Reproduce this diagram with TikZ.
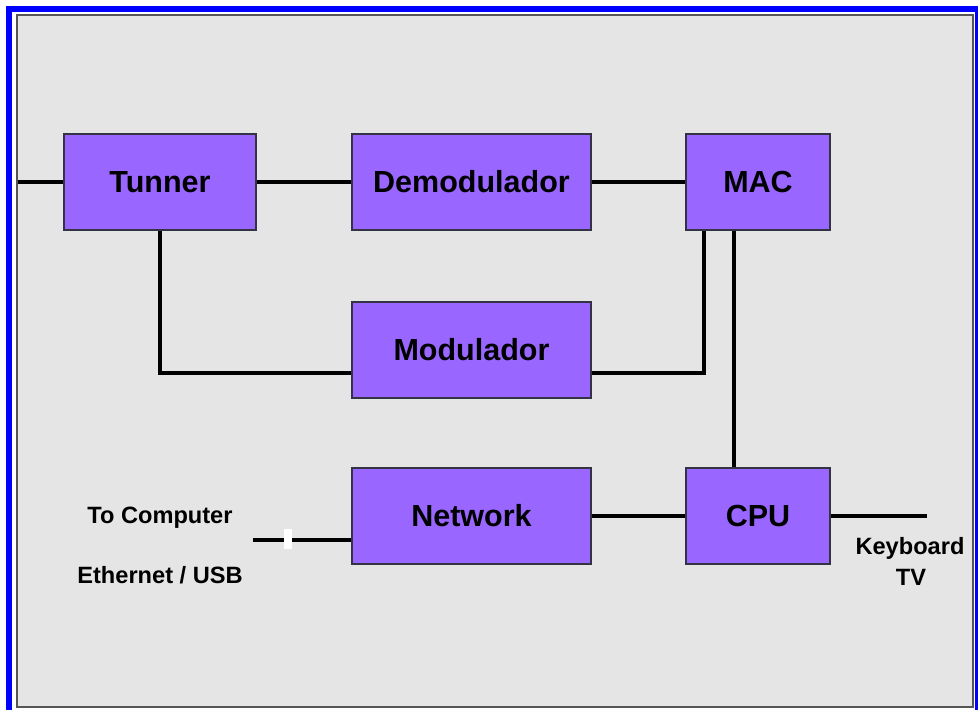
\documentclass[tikz,border=0pt]{standalone}
\usepackage{fontspec}
\setmainfont{Liberation Sans}
\usetikzlibrary{calc}
\definecolor{frameblue}{HTML}{0000FF}
\definecolor{panelgray}{HTML}{E5E5E5}
\definecolor{paneledge}{HTML}{555555}
\definecolor{blockfill}{HTML}{9966FF}
\definecolor{blockedge}{HTML}{333344}
\tikzset{
  block/.style={draw=blockedge, line width=1.4pt, fill=blockfill, inner sep=0pt,
    minimum height=96pt, font=\fontsize{30.5}{34}\selectfont\bfseries},
  wire/.style={line width=4pt, black},
  note/.style={font=\fontsize{23.6}{27}\selectfont\bfseries, inner sep=0pt}
}
\begin{document}
\begin{tikzpicture}[x=1pt,y=-1pt]
\useasboundingbox (0,0) rectangle (978,710);
\fill[white] (0,0) rectangle (978,710);
\begin{scope}
  \clip (0,0) rectangle (978,710);
  % outer blue frame, running off the right and bottom edges
  \draw[frameblue, line width=6pt] (9,9) rectangle (978,716);
\end{scope}
% grey panel
\draw[paneledge, line width=2pt, fill=panelgray] (17,15) rectangle (973,707);

% blocks
\node[block, minimum width=192pt] (tun) at (160,182) {Tunner};
\node[block, minimum width=239pt] (dem) at (471.5,182) {Demodulador};
\node[block, minimum width=144pt] (mac) at (758,182) {MAC};
\node[block, minimum width=239pt] (mod) at (471.5,350) {Modulador};
\node[block, minimum width=239pt] (net) at (471.5,516) {Network};
\node[block, minimum width=144pt] (cpu) at (758,516) {CPU};

% free ends
\coordinate (antenna) at (18,182);
\coordinate (pcport) at (253,540);
\coordinate (kbd) at (927,516);

% connections
\draw[wire] (antenna) -- (tun.west);
\draw[wire] (tun.east) -- (dem.west);
\draw[wire] (dem.east) -- (mac.west);
\draw[wire] (tun.south) |- ([yshift=-23pt]mod.west);
\draw[wire] ([yshift=-23pt]mod.east) -| ([xshift=-54pt]mac.south);
\draw[wire] ([xshift=-24pt]mac.south) -- ([xshift=-24pt]cpu.north);
\draw[wire] (net.east) -- (cpu.west);
\draw[wire] (cpu.east) -- (kbd);
\draw[wire] (pcport) -- ([yshift=-24pt]net.west);
% small break mark on the computer link
\fill[white] (284,529) rectangle (292,549);

% side labels
\node[note] (tocomp) at (160,518) {To Computer};
\node[note] (ethusb) at (160,575) {Ethernet / USB};
\node[note] (kbdlbl) at (910,548) {Keyboard};
\node[note] (tvlbl) at (911,577) {TV};
\end{tikzpicture}
\end{document}
